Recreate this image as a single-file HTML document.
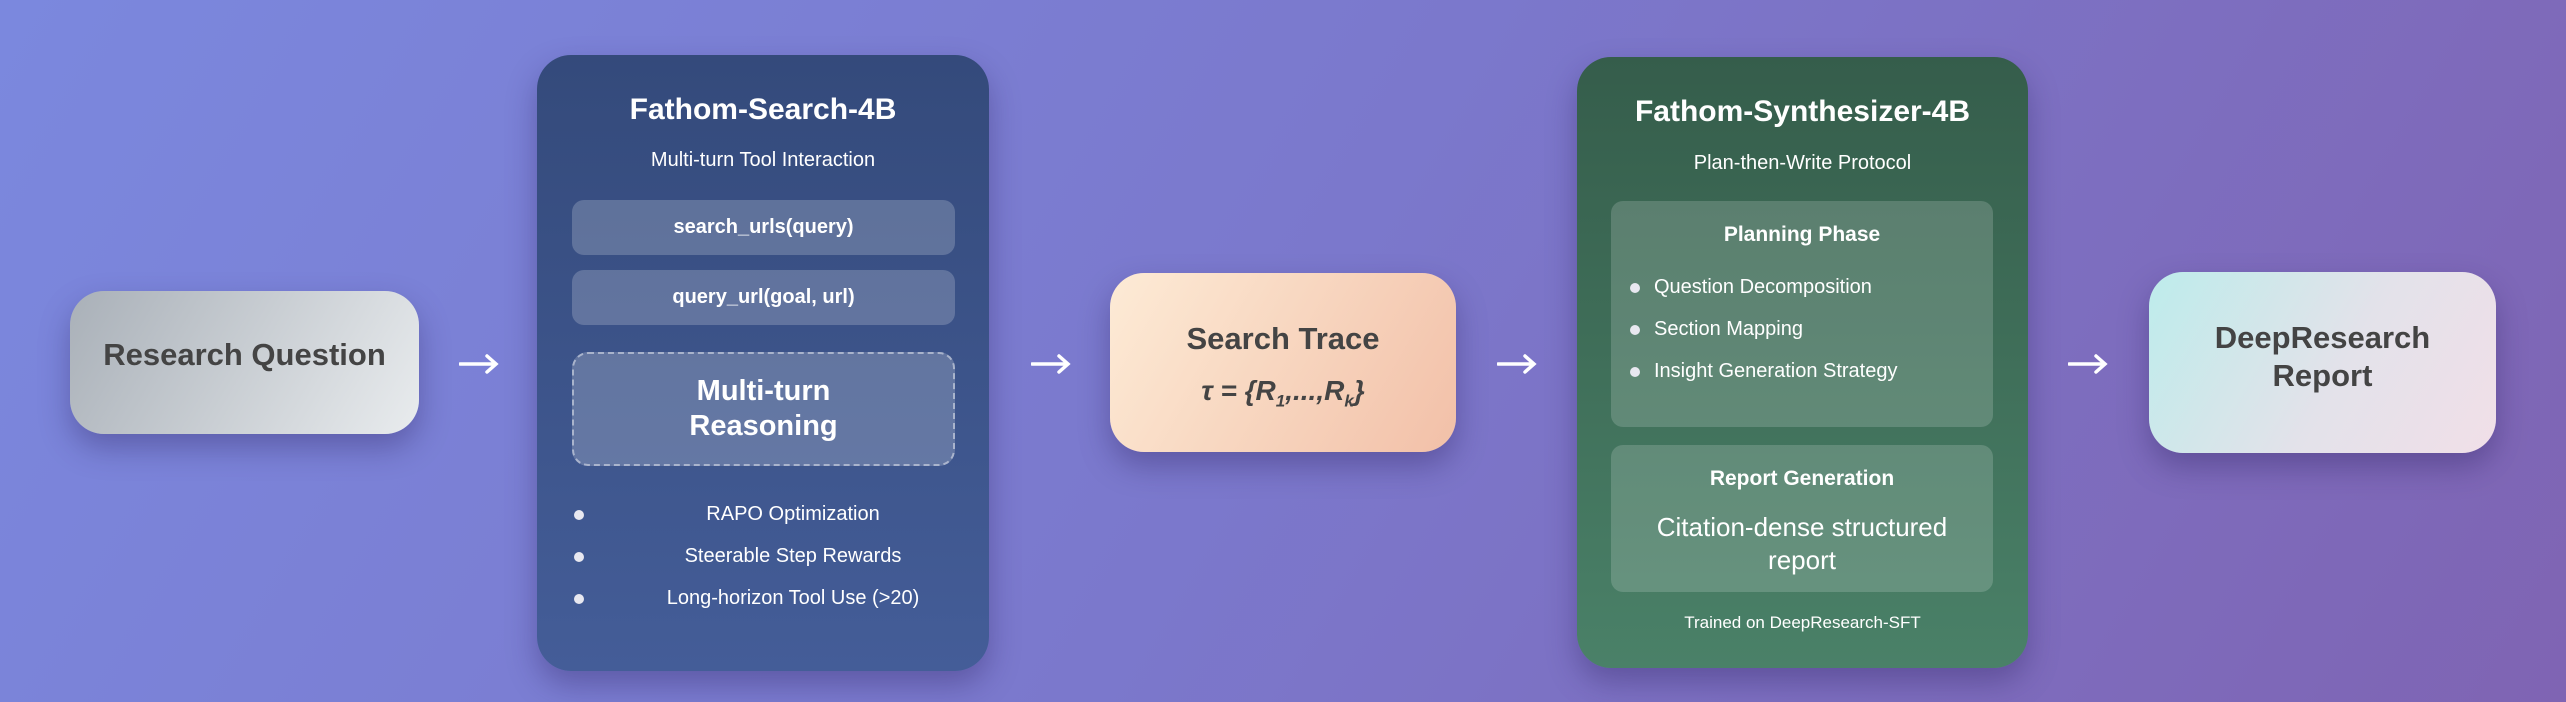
<!DOCTYPE html>
<html><head><meta charset="utf-8"><style>
*{margin:0;padding:0;box-sizing:border-box}
body{width:2566px;height:702px;overflow:hidden;position:relative;font-family:"Liberation Sans","DejaVu Sans",sans-serif;
background:linear-gradient(120deg,#7b88de 0%,#7b78cc 50%,#7f64b3 100%)}
.a{position:absolute}
.box{position:absolute;border-radius:34px;box-shadow:0 14px 30px rgba(40,30,90,0.35)}
.c{position:absolute;left:0;right:0;text-align:center}
.arrow{position:absolute;width:40px;height:24px}
.sub{position:absolute;border-radius:12px;background:rgba(255,255,255,0.2)}
.w{color:#fff}
.dot{position:absolute;width:10px;height:10px;border-radius:5px;background:#e8e8f0}
</style></head><body>

<div class="box" style="left:70px;top:291px;width:349px;height:143px;background:linear-gradient(120deg,#a9b0b8,#e9ecee)">
 <div class="c" style="top:46px;font-size:31px;font-weight:bold;color:#444">Research Question</div>
</div>
<svg class="arrow" style="left:459px;top:352px" viewBox="0 0 40 24"><path d="M1 12H36M28 4L37 12L28 20" stroke="#fff" stroke-width="3.5" fill="none" stroke-linecap="round"/></svg>

<div class="box" style="left:537px;top:55px;width:452px;height:616px;background:linear-gradient(180deg,#344a7b,#445d98)">
 <div class="c w" style="top:38px;font-size:30px;font-weight:bold">Fathom-Search-4B</div>
 <div class="c w" style="top:94px;font-size:20px">Multi-turn Tool Interaction</div>
 <div class="sub" style="left:35px;top:145px;width:383px;height:55px"><div class="c w" style="top:16px;font-size:20px;font-weight:bold">search_urls(query)</div></div>
 <div class="sub" style="left:35px;top:215px;width:383px;height:55px"><div class="c w" style="top:16px;font-size:20px;font-weight:bold">query_url(goal, url)</div></div>
 <div class="sub" style="left:35px;top:297px;width:383px;height:114px;border:2.5px dashed rgba(255,255,255,0.45);border-radius:16px">
  <div class="c w" style="top:20px;font-size:29px;font-weight:bold;line-height:35px">Multi-turn<br>Reasoning</div></div>
 <div class="dot" style="left:37px;top:455px"></div>
 <div class="dot" style="left:37px;top:497px"></div>
 <div class="dot" style="left:37px;top:539px"></div>
 <div class="c w" style="left:60px;top:448px;font-size:20px">RAPO Optimization</div>
 <div class="c w" style="left:60px;top:490px;font-size:20px">Steerable Step Rewards</div>
 <div class="c w" style="left:60px;top:532px;font-size:20px">Long-horizon Tool Use (&gt;20)</div>
</div>
<svg class="arrow" style="left:1031px;top:352px" viewBox="0 0 40 24"><path d="M1 12H36M28 4L37 12L28 20" stroke="#fff" stroke-width="3.5" fill="none" stroke-linecap="round"/></svg>

<div class="box" style="left:1110px;top:273px;width:346px;height:179px;background:linear-gradient(120deg,#fdebd6,#f2c0a8)">
 <div class="c" style="top:48px;font-size:31px;font-weight:bold;color:#444">Search Trace</div>
 <div class="c" style="top:102px;font-size:28px;font-weight:bold;font-style:italic;color:#444">τ = {R<sub style="font-size:17px">1</sub>,...,R<sub style="font-size:17px">k</sub>}</div>
</div>
<svg class="arrow" style="left:1497px;top:352px" viewBox="0 0 40 24"><path d="M1 12H36M28 4L37 12L28 20" stroke="#fff" stroke-width="3.5" fill="none" stroke-linecap="round"/></svg>

<div class="box" style="left:1577px;top:57px;width:451px;height:611px;background:linear-gradient(180deg,#355d4b,#4a8168)">
 <div class="c w" style="top:38px;font-size:30px;font-weight:bold">Fathom-Synthesizer-4B</div>
 <div class="c w" style="top:95px;font-size:20px">Plan-then-Write Protocol</div>
 <div class="sub" style="left:34px;top:144px;width:382px;height:226px;background:rgba(255,255,255,0.17)">
  <div class="c w" style="top:22px;font-size:21px;font-weight:bold">Planning Phase</div>
  <div class="dot" style="left:19px;top:82px"></div>
  <div class="dot" style="left:19px;top:124px"></div>
  <div class="dot" style="left:19px;top:166px"></div>
  <div class="a w" style="left:43px;top:75px;font-size:20px">Question Decomposition</div>
  <div class="a w" style="left:43px;top:117px;font-size:20px">Section Mapping</div>
  <div class="a w" style="left:43px;top:159px;font-size:20px">Insight Generation Strategy</div>
 </div>
 <div class="sub" style="left:34px;top:388px;width:382px;height:147px;background:rgba(255,255,255,0.17)">
  <div class="c w" style="top:22px;font-size:21px;font-weight:bold">Report Generation</div>
  <div class="c w" style="top:66px;font-size:26px;line-height:33px">Citation-dense structured<br>report</div>
 </div>
 <div class="c w" style="top:556px;font-size:17px">Trained on DeepResearch-SFT</div>
</div>
<svg class="arrow" style="left:2068px;top:352px" viewBox="0 0 40 24"><path d="M1 12H36M28 4L37 12L28 20" stroke="#fff" stroke-width="3.5" fill="none" stroke-linecap="round"/></svg>

<div class="box" style="left:2149px;top:272px;width:347px;height:181px;background:linear-gradient(120deg,#bdeceb,#e3e2ea 55%,#f1dfe8)">
 <div class="c" style="top:47px;font-size:31px;font-weight:bold;color:#444;line-height:38px">DeepResearch<br>Report</div>
</div>
</body></html>
